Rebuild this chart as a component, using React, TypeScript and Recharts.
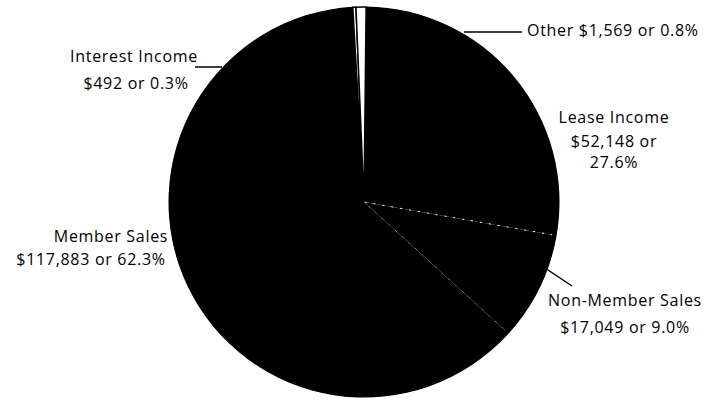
import React from 'react';
import { PieChart, Pie, Cell } from 'recharts';

const categories = ['Interest Income', 'Other', 'Lease Income', 'Non-Member Sales', 'Member Sales'];
const amounts = [492, 1569, 52148, 17049, 117883];
const fills = ['#ffffff', '#ffffff', '#000000', '#000000', '#000000'];

const data = categories.map((name, i) => ({ name, value: amounts[i] }));
const total = amounts.reduce((a, b) => a + b, 0);

// label placement relative to pie center: lines [dx, baseline dy, anchor], leader [x1,y1,x2,y2]
const labelLayout: Record<string, { lines: [number, number, string][]; leader?: number[] }> = {
  'Interest Income': { lines: [[-230, -140, 'middle'], [-228, -113, 'middle']], leader: [-169, -135, -142, -135] },
  'Other': { lines: [[163, -166, 'start']], leader: [100, -170, 158, -170] },
  'Lease Income': { lines: [[250, -79, 'middle'], [250, -55, 'middle'], [250, -34, 'middle']] },
  'Non-Member Sales': { lines: [[261, 104, 'middle'], [261, 131, 'middle']], leader: [181, 66, 208, 84] },
  'Member Sales': { lines: [[-253, 40, 'middle'], [-273, 63, 'middle']] },
};

const fmt = (v: number) => '$' + v.toLocaleString('en-US');

const renderLabel = (props: any) => {
  const { cx, cy, name, value } = props;
  const lay = labelLayout[name];
  if (!lay) return null;
  const pct = ((value / total) * 100).toFixed(1) + '%';
  let texts: string[];
  if (lay.lines.length === 1) texts = [`${name} ${fmt(value)} or ${pct}`];
  else if (lay.lines.length === 3) texts = [name, `${fmt(value)} or`, pct];
  else texts = [name, `${fmt(value)} or ${pct}`];
  return (
    <g>
      {lay.leader && (
        <line
          x1={cx + lay.leader[0]} y1={cy + lay.leader[1]}
          x2={cx + lay.leader[2]} y2={cy + lay.leader[3]}
          stroke="#000" strokeWidth={1.5}
        />
      )}
      {lay.lines.map(([dx, dy, anchor], i) => (
        <text key={i} x={cx + dx} y={cy + dy} textAnchor={anchor as any}
          fill="#000" fontSize={16} letterSpacing={0.7} fontFamily="'Open Sans', sans-serif">
          {texts[i]}
        </text>
      ))}
    </g>
  );
};

const pieProps = {
  data,
  dataKey: 'value',
  nameKey: 'name',
  cx: 359,
  cy: 197,
  startAngle: 93.3,
  endAngle: -266.7,
  isAnimationActive: false,
};

const App: React.FC = () => (
  <div style={{ position: 'absolute', left: 0, top: 0, background: '#fff' }}>
    <PieChart width={713} height={402}>
      <Pie {...pieProps} outerRadius={195} label={renderLabel} labelLine={false}>
        {data.map((d, i) => {
          const white = fills[i] === '#ffffff';
          const dashed = d.name === 'Non-Member Sales';
          return (
            <Cell
              key={d.name}
              fill={fills[i]}
              stroke={white ? '#000' : dashed ? '#fff' : 'none'}
              strokeWidth={white ? 1.5 : 1}
              strokeDasharray={dashed ? '2 7' : undefined}
            />
          );
        })}
      </Pie>
      {/* solid rim over the dashed outline */}
      <Pie {...pieProps} innerRadius={191} outerRadius={195.5}>
        {data.map((d, i) => (
          <Cell
            key={d.name}
            fill={fills[i] === '#ffffff' ? 'none' : '#000'}
            stroke="none"
          />
        ))}
      </Pie>
    </PieChart>
  </div>
);

export default App;
